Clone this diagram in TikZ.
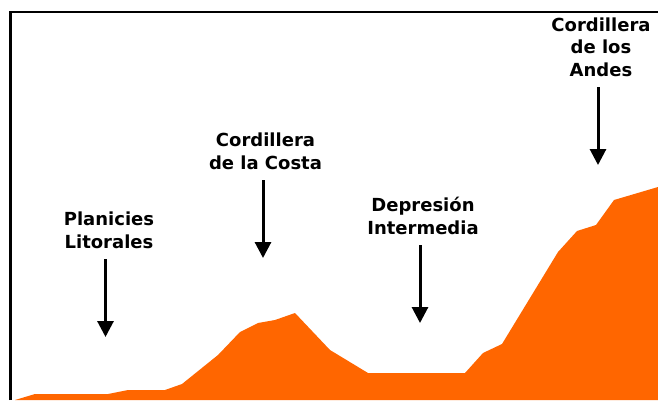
\documentclass[tikz,border=0pt]{standalone}
\usepackage{fontspec}
\setmainfont{DejaVu Sans}
\usetikzlibrary{arrows.meta}
\definecolor{terrain}{HTML}{FF6600}
\tikzset{
  region/.style={anchor=south,align=center,inner xsep=0pt,inner ysep=10.5pt,
    font=\fontsize{18}{22.3}\selectfont\bfseries},
  drop/.style={-{Triangle[width=16pt,length=16pt]},line width=3pt,black}
}

\begin{document}
\begin{tikzpicture}[x=1pt,y=-1pt]
\useasboundingbox (0,0) rectangle (658,400);
\fill [white] (0,0) rectangle (658,400);

% relief profile
\fill [terrain] (15,400) -- (35,394) -- (108,394) -- (128,390) -- (165,390)
  -- (182,384) -- (218,355) -- (240,332) -- (258,323) -- (275,320) -- (295,313)
  -- (330,350) -- (368,373) -- (465,373) -- (483,353) -- (502,344) -- (558,252)
  -- (577,231) -- (596,225) -- (614,200) -- (658,187) -- (658,400) -- cycle;

% frame, open at the bottom and on the right
\draw [line width=2.6pt] (10.5,400) -- (10.5,12) -- (658,12);

\node (planicies) [region] at (109,259) {Planicies\\Litorales};
\coordinate (planicies tip) at (105.5,337);
\draw [drop] (planicies.south -| planicies tip) -- (planicies tip);

\node (costa) [region] at (265.5,180) {Cordillera\\de la Costa};
\coordinate (costa tip) at (263,258);
\draw [drop] (costa.south -| costa tip) -- (costa tip);

\node (depresion) [region] at (423,245) {Depresión\\Intermedia};
\coordinate (depresion tip) at (420,323);
\draw [drop] (depresion.south -| depresion tip) -- (depresion tip);

\node (andes) [region] at (601,87) {Cordillera\\de los\\Andes};
\coordinate (andes tip) at (598,165);
\draw [drop] (andes.south -| andes tip) -- (andes tip);
\end{tikzpicture}
\end{document}
